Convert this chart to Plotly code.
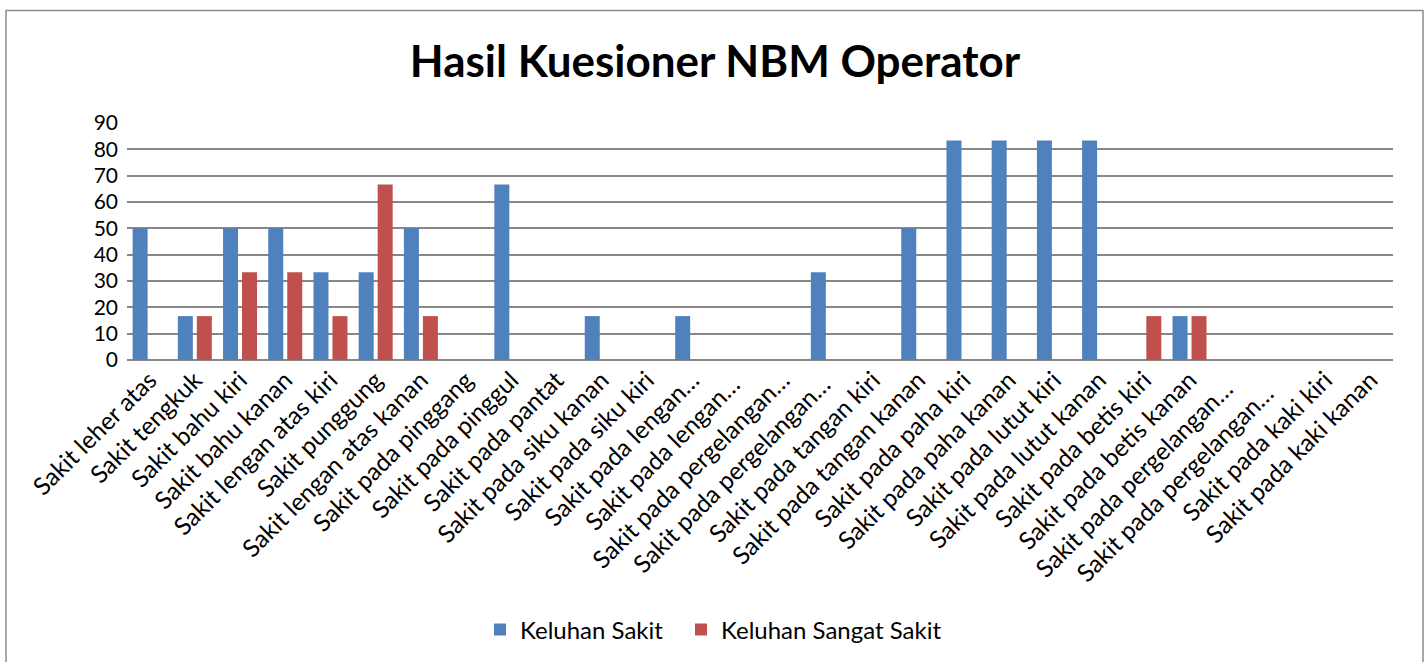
import plotly.graph_objects as go

categories = [
    "Sakit leher atas", "Sakit tengkuk", "Sakit bahu kiri", "Sakit bahu kanan",
    "Sakit lengan atas kiri", "Sakit punggung", "Sakit lengan atas kanan",
    "Sakit pada pinggang", "Sakit pada pinggul", "Sakit pada pantat",
    "Sakit pada siku kanan", "Sakit pada siku kiri", "Sakit pada lengan…",
    "Sakit pada lengan… ", "Sakit pada pergelangan…", "Sakit pada pergelangan… ",
    "Sakit pada tangan kiri", "Sakit pada tangan kanan", "Sakit pada paha kiri",
    "Sakit pada paha kanan", "Sakit pada lutut kiri", "Sakit pada lutut kanan",
    "Sakit pada betis kiri", "Sakit pada betis kanan", "Sakit pada pergelangan…  ",
    "Sakit pada pergelangan…   ", "Sakit pada kaki kiri", "Sakit pada kaki kanan",
]
keluhan_sakit = [50, 16.67, 50, 50, 33.33, 33.33, 50, 0, 66.67, 0, 16.67, 0, 16.67, 0,
                 0, 33.33, 0, 50, 83.33, 83.33, 83.33, 83.33, 0, 16.67, 0, 0, 0, 0]
keluhan_sangat_sakit = [0, 16.67, 33.33, 33.33, 16.67, 66.67, 16.67, 0, 0, 0, 0, 0, 0, 0,
                        0, 0, 0, 0, 0, 0, 0, 0, 16.67, 16.67, 0, 0, 0, 0]
y_ticks = [0, 10, 20, 30, 40, 50, 60, 70, 80, 90]

FONT = "Lato, Calibri, 'Open Sans', sans-serif"

fig = go.Figure()
fig.add_trace(go.Bar(x=categories, y=keluhan_sakit, name="Keluhan Sakit",
                     marker=dict(color="#4F81BD", line=dict(width=0)),
                     legend="legend", showlegend=True))
fig.add_trace(go.Bar(x=categories, y=keluhan_sangat_sakit, name="Keluhan Sangat Sakit",
                     marker=dict(color="#C0504D", line=dict(width=0)),
                     legend="legend2", showlegend=True))

W, H = 1427, 662
PL, PR, PT, PB = 127, 1393, 123, 361  # plot area in window pixels
pw, ph = PR - PL, PB - PT

def px_x(x):
    return (x - PL) / pw

def px_y(y):
    return (PB - y) / ph

leg_common = dict(orientation="h", xanchor="left", yanchor="middle", y=px_y(630),
                  font=dict(size=24, family=FONT), itemwidth=30,
                  bgcolor="rgba(0,0,0,0)", borderwidth=0)

fig.update_layout(
    width=W, height=H,
    margin=dict(l=PL, r=W - PR, t=PT, b=H - PB),
    paper_bgcolor="white", plot_bgcolor="white",
    font=dict(family=FONT, color="black"),
    showlegend=True,
    barmode="group", bargap=0.16, bargroupgap=0.21,
    title=dict(text="<b>Hasil Kuesioner NBM Operator</b>", x=715 / W, xref="container",
               xanchor="center", y=1 - 62 / H, yref="container", yanchor="middle",
               font=dict(size=44, family=FONT, color="black")),
    legend=dict(x=px_x(480), **leg_common),
    legend2=dict(x=px_x(681), **leg_common),
    xaxis=dict(tickangle=-45, tickfont=dict(size=24.5, family=FONT), showgrid=False,
               showline=False, ticks="", automargin=False),
    yaxis=dict(range=[0, 90], tickvals=y_ticks, tickfont=dict(size=21, family=FONT),
               showgrid=True, gridcolor="#878787", gridwidth=1.5, zeroline=True,
               zerolinecolor="#878787", zerolinewidth=1.5, ticks="", ticklen=0,
               ticklabelstandoff=8, automargin=False),
    shapes=[dict(type="rect", xref="paper", yref="paper",
                 x0=px_x(6), x1=px_x(1423), y0=px_y(700), y1=px_y(10),
                 line=dict(color="#8c8c8c", width=1.5), fillcolor="rgba(0,0,0,0)",
                 layer="below")],
)

fig.write_html("out.html", config={"displayModeBar": False},
               post_script="document.body.style.margin='0';document.body.style.overflow='hidden';")
